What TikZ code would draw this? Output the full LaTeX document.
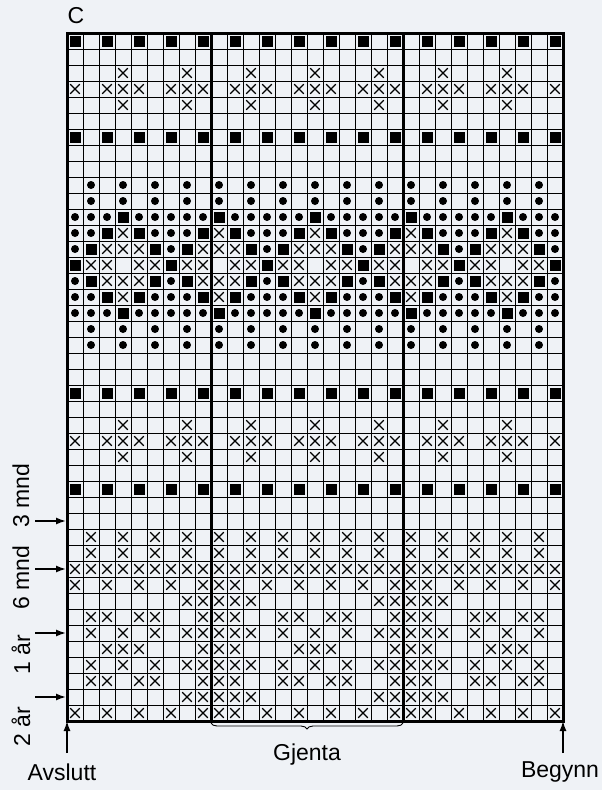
\documentclass[tikz,border=0pt]{standalone}
\usepackage{fontspec}
\setmainfont{Liberation Sans}
\usetikzlibrary{arrows.meta,decorations.pathreplacing}
\definecolor{chartbg}{RGB}{239,242,246}

% one mark in column #1, row #2 (cell 16 x 16, top left at 67,33)
\newcommand{\markx}[2]{\draw[line width=1.25pt, shift={(75+16*#1,41+16*#2)}] (-4.8,-4.8) -- (4.8,4.8) (-4.8,4.8) -- (4.8,-4.8);}
\newcommand{\marksq}[2]{\fill[shift={(75+16*#1,41+16*#2)}] (-5.5,-5.5) rectangle (5.5,5.5);}
\newcommand{\markdot}[2]{\fill (75+16*#1,41+16*#2) circle (4pt);}
% a mark in every repeat: #1 mark, #2 row, #3 stitches of the repeat (0..11)
\newcommand{\markrow}[3]{\foreach \j in {#3}{\foreach \k in {-3,9,21}{%
  \pgfmathtruncatemacro\col{\j+\k}\ifnum\col>-1 \ifnum\col<31 #1{\col}{#2}\fi\fi}}}

\begin{document}
\begin{tikzpicture}[x=1pt, y=-1pt, >=Latex,
  every node/.style={font=\fontsize{23}{27}\selectfont},
  rowarrow/.style={-{Latex[length=10pt,width=7pt]}, line width=1.5pt},
  thickline/.style={line width=3pt}]
  \fill[chartbg] (0,0) rectangle (602,790);
  \useasboundingbox (0,0) rectangle (602,790);

  % pattern
  \foreach \rr in {0,6,22,28} {\markrow\marksq{\rr}{1,3,5,7,9,11}}
  \foreach \rr in {2,4,24,26} {\markrow\markx{\rr}{2,6,10}}
  \foreach \rr in {3,25} {\markrow\markx{\rr}{1,2,3,5,6,7,9,10,11}}
  \foreach \rr in {9,10,18,19} {\markrow\markdot{\rr}{0,2,4,6,8,10}}
  \foreach \rr in {11,17} {\markrow\marksq{\rr}{0,6} \markrow\markdot{\rr}{1,2,3,4,5,7,8,9,10,11}}
  \foreach \rr in {12,16} {\markrow\markx{\rr}{0,6} \markrow\marksq{\rr}{1,5,7,11} \markrow\markdot{\rr}{2,3,4,8,9,10}}
  \foreach \rr in {13,15} {\markrow\markx{\rr}{0,1,5,6,7,11} \markrow\marksq{\rr}{2,4,8,10} \markrow\markdot{\rr}{3,9}}
  \markrow\marksq{14}{3,9} \markrow\markx{14}{1,2,4,5,7,8,10,11}
  \foreach \rr in {31,32} {\markrow\markx{\rr}{0,2,4,6,8,10}}
  \markrow\markx{33}{0,...,11}
  \foreach \rr in {34,42} {\markrow\markx{\rr}{0,1,3,5,7,9,11}}
  \foreach \rr in {35,41} {\markrow\markx{\rr}{0,1,2,10,11}}
  \foreach \rr in {36,40} {\markrow\markx{\rr}{0,1,4,5,7,8,11}}
  \foreach \rr in {37,39} {\markrow\markx{\rr}{0,1,2,4,6,8,10,11}}
  \markrow\markx{38}{0,1,5,6,7,11}

  % grid
  \foreach \i in {0,...,31} \draw[line width=0.9pt] (67+16*\i,33) -- (67+16*\i,721);
  \foreach \i in {0,...,43} \draw[line width=0.9pt] (67,33+16*\i) -- (563,33+16*\i);
  \draw[thickline] (67,33) rectangle (563,721);
  \draw[thickline] (211,33) -- (211,721);
  \draw[thickline] (403,33) -- (403,721);

  \coordinate (gridbl) at (67,721);
  \coordinate (gridbr) at (563,721);
  \node (chartc) at (76,16) {C};
  \node (avslutt) at (62,772) {Avslutt};
  \node (begynn) at (560,772) {Begynn};
  \node (gjenta) at (307,755) {Gjenta};
  \coordinate (avsluttend) at (67,753);
  \coordinate (begynnend) at (563,753);
  \draw[rowarrow] (avsluttend) -- (gridbl);
  \draw[rowarrow] (begynnend) -- (gridbr);
  \draw[line width=0.9pt, decorate, decoration={brace, mirror, amplitude=6pt}] (211,723) -- (403,723);

  % age marks
  \node[rotate=90] (mnd3) at (21,496) {3 mnd};
  \node[rotate=90] (mnd6) at (21,578) {6 mnd};
  \node[rotate=90] (aar1) at (21,655) {1 år};
  \node[rotate=90] (aar2) at (21,727) {2 år};
  \foreach \y/\nm in {521/a, 569/b, 633/c, 697/d} {
    \coordinate (tail\nm) at (35,\y);
    \coordinate (head\nm) at (66,\y);
    \draw[rowarrow] (tail\nm) -- (head\nm);
  }
\end{tikzpicture}
\end{document}
